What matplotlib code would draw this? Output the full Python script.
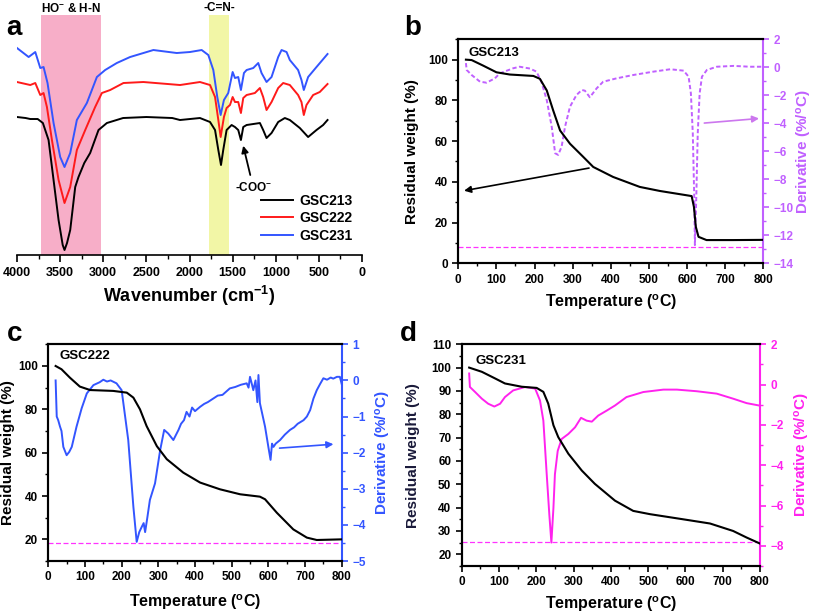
import numpy as np
import matplotlib
matplotlib.use("Agg")
import matplotlib.pyplot as plt
from matplotlib.ticker import MultipleLocator

plt.rcParams["font.family"] = ["Liberation Sans", "DejaVu Sans"]
plt.rcParams["font.weight"] = "bold"
plt.rcParams["axes.labelweight"] = "bold"
plt.rcParams["mathtext.fontset"] = "custom"
plt.rcParams["mathtext.rm"] = "Liberation Sans:bold"
plt.rcParams["mathtext.default"] = "rm"

# ── FTIR (panel a), transmittance in arbitrary units ──────────────────────────
wn_213 = [4000, 3900, 3846, 3760, 3700, 3634, 3576, 3518, 3470, 3449, 3420, 3383, 3325, 3287,
          3220, 3152, 3055, 2958, 2770, 2500, 2200, 2110, 1879, 1762, 1704, 1666, 1635, 1609,
          1570, 1512, 1473, 1435, 1404, 1377, 1338, 1184, 1146, 1107, 1049, 972, 895, 837,
          721, 625, 528, 451, 400]
ir_213 = [138, 137, 136, 136, 132, 115, 75, 35, 10, 5, 12, 25, 68, 78,
          92, 102, 125, 132, 137, 138, 137, 135, 137, 133, 125, 105, 90, 105,
          125, 130, 128, 125, 115, 128, 130, 132, 125, 117, 122, 133, 137, 135,
          127, 118, 125, 130, 135]
wn_222 = [4000, 3846, 3788, 3730, 3692, 3653, 3595, 3518, 3449, 3383, 3306, 3209, 3094, 3016,
          2920, 2766, 2535, 2110, 1879, 1762, 1704, 1666, 1639, 1601, 1570, 1531, 1500, 1473,
          1435, 1404, 1377, 1338, 1242, 1184, 1146, 1107, 1049, 972, 914, 837, 741, 702,
          675, 644, 567, 490, 400]
ir_222 = [173, 170, 172, 160, 162, 148, 115, 75, 52, 68, 105, 125, 148, 162,
          165, 172, 173, 170, 173, 170, 158, 135, 118, 138, 147, 150, 158, 153,
          153, 142, 157, 160, 162, 167, 158, 145, 153, 167, 172, 170, 160, 153,
          140, 150, 160, 163, 171]
wn_231 = [4000, 3865, 3788, 3730, 3692, 3646, 3576, 3499, 3449, 3383, 3306, 3190, 3074, 2978,
          2843, 2689, 2419, 2148, 1995, 1859, 1782, 1724, 1678, 1639, 1601, 1551, 1500, 1473,
          1435, 1404, 1369, 1338, 1261, 1203, 1165, 1107, 1049, 972, 933, 875, 837, 741,
          702, 675, 625, 528, 400]
ir_231 = [207, 198, 203, 187, 188, 172, 132, 98, 88, 102, 135, 152, 178, 185,
          192, 198, 205, 202, 203, 205, 200, 185, 158, 140, 155, 162, 183, 177,
          178, 165, 182, 185, 187, 192, 182, 173, 178, 198, 205, 203, 195, 185,
          175, 165, 178, 188, 201]

# ── TGA / DTG (panels b, c, d) ────────────────────────────────────────────────
t_213 = [20, 35, 66, 100, 135, 197, 214, 232, 249, 267, 293, 328, 354, 406, 476, 529,
         599, 612, 618, 623, 630, 651, 721, 800]
w_213 = [100, 99.8, 97, 93.8, 92.7, 92, 90.6, 84.9, 75, 65.2, 58.7, 52.2, 47.3, 42.4, 37.5, 35.5,
         33.4, 33, 27.7, 17.9, 13, 11.4, 11.4, 11.5]
td_213 = [20, 22, 35, 57, 74, 96, 109, 144, 161, 188, 205, 218, 232, 245, 254, 262, 271, 280,
          293, 310, 324, 332, 345, 363, 380, 415, 459, 512, 556, 591, 604, 610, 615, 619,
          620.5, 624, 628, 633, 639, 652, 678, 722, 765, 800]
d_213 = [0.3, -0.19, -0.55, -1.03, -1.1, -0.79, -0.43, -0.07, 0.04, -0.09, -0.31, -1.03, -2.34,
         -4.24, -6.14, -6.26, -5.67, -4.24, -2.81, -1.98, -1.62, -1.67, -2.14, -1.5, -1.03, -0.79,
         -0.55, -0.31, -0.14, -0.24, -0.67, -1.86, -4.71, -9.5, -12.7, -9.5, -4.71, -1.86, -0.67,
         -0.19, 0.04, 0.1, 0.04, 0.04]

t_222 = [20, 36, 59, 86, 114, 177, 214, 232, 250, 268, 296, 323, 368, 414, 468, 523, 577,
         591, 623, 668, 705, 732, 800]
w_222 = [100, 98.5, 94.6, 90.5, 88.9, 88.5, 87.7, 85.4, 80, 72.3, 63, 57, 50.8, 46.2, 43.1, 40.8,
         39.7, 38.5, 32.3, 24.6, 20.8, 19.7, 20]
td_222 = [20, 23, 27, 32, 36, 41, 50, 57, 64, 77, 91, 105, 123, 140, 150, 160, 170, 186,
          200, 218, 232, 241, 248, 255, 260, 264, 270, 277, 291, 305, 316, 327, 341, 355,
          362, 370, 377, 385, 392, 400, 414, 425, 435, 450, 462, 475, 495, 510, 525, 541,
          546, 550, 555, 559, 565, 570, 573, 577, 591, 600, 606, 610, 614, 620, 632, 645,
          659, 670, 680, 696, 705, 714, 723, 732, 741, 750, 760, 770, 777, 787, 795, 800]
d_222 = [0.0, -1.0, -1.1, -1.28, -1.4, -1.84, -2.07, -1.98, -1.84, -1.28, -0.77, -0.36, -0.13, -0.05, 0.02, -0.03, 0.0, -0.08,
         -0.27, -1.65, -3.5, -4.47, -4.2, -4.05, -3.95, -4.2, -3.8, -3.31, -2.85, -1.93, -1.37, -1.47, -1.65, -1.37,
         -1.2, -1.1, -0.87, -1.0, -0.75, -0.85, -0.73, -0.65, -0.6, -0.5, -0.42, -0.4, -0.22, -0.18, -0.12, -0.08,
         -0.2, 0.1, -0.1, -0.27, 0.0, -0.6, 0.15, -0.63, -1.28, -1.84, -2.2, -1.75, -1.84, -1.75, -1.65, -1.5,
         -1.37, -1.3, -1.2, -1.1, -1.0, -0.82, -0.5, -0.27, -0.1, 0.06, 0.02, 0.08, 0.05, 0.1, 0.1, -0.1]

t_231 = [20, 54, 89, 116, 161, 201, 219, 232, 246, 259, 286, 322, 357, 411, 460, 505, 594,
         666, 728, 764, 800]
w_231 = [100, 98.2, 95.4, 93.2, 91.8, 91.3, 89.6, 84.6, 75.3, 70.2, 63.1, 55.9, 50.2, 43, 38.6,
         37.2, 35, 33.2, 30, 27.2, 24.6]
td_231 = [20, 22, 36, 54, 71, 87.5, 103, 116, 138, 170, 197, 210, 219, 228, 235, 240.5, 246,
          250, 257.5, 268, 286, 304, 320, 335, 349, 366, 389, 411, 442, 487, 541, 577, 630,
          684, 728, 764, 798]
d_231 = [0.55, -0.12, -0.37, -0.7, -0.95, -1.09, -0.95, -0.62, -0.29, -0.12, -0.2, -0.79, -1.79,
         -4.45, -6.45, -7.84, -6.12, -4.45, -3.29, -2.7, -2.45, -2.12, -1.65, -1.79, -1.84, -1.54,
         -1.29, -1.04, -0.62, -0.37, -0.25, -0.25, -0.33, -0.45, -0.7, -0.92, -1.04]

fig = plt.figure(figsize=(8.13, 6.13), dpi=100)


# ── Panel a: FTIR ─────────────────────────────────────────────────────────────
ax = fig.add_axes([0.0209, 0.584, 0.4244, 0.3915])
ax.axvspan(3030, 3720, color="#F7AEC8", lw=0)
ax.axvspan(1540, 1770, color="#F2F6A6", lw=0)
ax.plot(wn_213, ir_213, color="black", lw=1.4, label="GSC213")
ax.plot(wn_222, ir_222, color="#FF1A1A", lw=1.4, label="GSC222")
ax.plot(wn_231, ir_231, color="#3355FF", lw=1.4, label="GSC231")
ax.set_xlim(4000, 0)
ax.set_ylim(0, 240)
for s in ["left", "right", "top"]:
    ax.spines[s].set_visible(False)
ax.spines["bottom"].set_linewidth(1.2)
ax.set_yticks([])
ax.xaxis.set_major_locator(MultipleLocator(500))
ax.xaxis.set_minor_locator(MultipleLocator(250))
ax.tick_params(axis="x", which="major", direction="out", length=5, width=1.2, labelsize=9)
ax.tick_params(axis="x", which="minor", direction="out", length=3, width=1)
ax.set_xlabel(r"Wavenumber (cm$^{-1}$)", fontsize=13)
ax.xaxis.set_label_coords(0.5, -0.12)
ax.text(3375, 247, r"HO$^{-}$ & H-N", ha="center", va="center", fontsize=8.5, clip_on=False)
ax.text(1655, 247, "-C=N-", ha="center", va="center", fontsize=8.5, clip_on=False)
ax.annotate(r"-COO$^{-}$", xy=(1385, 112), xytext=(1262, 68), ha="center", va="center",
            fontsize=8.5, arrowprops=dict(arrowstyle="-|>", color="black", lw=1.3, mutation_scale=10))
ax.legend(loc="lower right", bbox_to_anchor=(1.01, 0.0), frameon=False, fontsize=10,
          handlelength=2.3, labelspacing=0.25, handletextpad=0.5)


# ── Panels b, c, d: TGA + DTG ─────────────────────────────────────────────────
def tga_panel(rect, t, w, td, d, ylim, ymaj, ymin, dlim, dmaj, dmin, dcolor, lcolor,
              dstyle, name, name_xy, base_w, lx, rx, xl):
    ax = fig.add_axes(rect)
    ax2 = ax.twinx()
    ax2.plot(td, d, color=dcolor, lw=1.4, linestyle=dstyle)
    ax2.axhline(base_w, color="#FF33FF", lw=0.9, linestyle=(0, (4, 2)))
    ax.plot(t, w, color="black", lw=1.5, zorder=3)
    ax.set_zorder(ax2.get_zorder() + 1)
    ax.patch.set_visible(False)
    ax.set_xlim(0, 800)
    ax.set_ylim(*ylim)
    ax2.set_ylim(*dlim)
    ax.xaxis.set_major_locator(MultipleLocator(100))
    ax.xaxis.set_minor_locator(MultipleLocator(50))
    ax.yaxis.set_major_locator(MultipleLocator(ymaj))
    ax.yaxis.set_minor_locator(MultipleLocator(ymin))
    ax2.yaxis.set_major_locator(MultipleLocator(dmaj))
    ax2.yaxis.set_minor_locator(MultipleLocator(dmin))
    ax.tick_params(which="major", direction="out", length=4, width=1.2, labelsize=8.5)
    ax.tick_params(which="minor", direction="out", length=2.5, width=1)
    ax2.tick_params(which="major", direction="out", length=4, width=1.2, labelsize=8.5,
                    colors=dcolor)
    ax2.tick_params(which="minor", direction="out", length=2.5, width=1, colors=dcolor)
    for s in ["left", "bottom", "top"]:
        ax.spines[s].set_linewidth(1.5)
        ax2.spines[s].set_linewidth(1.5)
    ax2.spines["right"].set_color(dcolor)
    ax2.spines["right"].set_linewidth(1.5)
    ax.spines["right"].set_visible(False)
    ax.set_xlabel(r"Temperature ($^{o}$C)", fontsize=11.5)
    ax.set_ylabel("Residual weight (%)", fontsize=11, color=lcolor)
    ax2.set_ylabel("Derivative (%/$^{o}$C)", fontsize=11, color=dcolor)
    ax.xaxis.set_label_coords(0.5, xl)
    ax.yaxis.set_label_coords(lx, 0.5)
    ax2.yaxis.set_label_coords(rx, 0.5)
    ax.text(name_xy[0], name_xy[1], name, ha="left", va="center", fontsize=9.5)
    return ax, ax2


ax_b, ax_b2 = tga_panel([0.5637, 0.5705, 0.3752, 0.3654], t_213, w_213, td_213, d_213,
                        (0, 110), 20, 10, (-14, 2), 2, 1, "#C060FF", "black", (0, (2.2, 1.3)),
                        "GSC213", (28, 103.5), -12.86, -0.13, 1.105, -0.13)
ax_b.annotate("", xy=(8, 35.4), xytext=(350, 47),
              arrowprops=dict(arrowstyle="-|>", color="black", lw=1.2, mutation_scale=10))
ax_b2.annotate("", xy=(796, -3.64), xytext=(638, -4.0),
               arrowprops=dict(arrowstyle="-|>", color="#CC77EE", lw=1.2, mutation_scale=10))

ax_c, ax_c2 = tga_panel([0.0594, 0.0848, 0.3609, 0.3535], t_222, w_222, td_222, d_222,
                        (10, 110), 20, 10, (-5, 1), 1, 0.5, "#3355FF", "black", "-",
                        "GSC222", (30, 104.6), -4.51, -0.115, 1.11, -0.145)
ax_c2.annotate("", xy=(785, -1.76), xytext=(623, -1.88),
               arrowprops=dict(arrowstyle="-|>", color="#3355FF", lw=1.2, mutation_scale=10))

ax_d, ax_d2 = tga_panel([0.5679, 0.0767, 0.3669, 0.3617], t_231, w_231, td_231, d_231,
                        (15, 110), 10, 5, (-9, 2), 2, 1, "#FF22EE", "#1a1a3a", "-",
                        "GSC231", (36, 103), -7.82, -0.14, 1.11, -0.13)

# ── Panel letters ─────────────────────────────────────────────────────────────
for lbl, x, y in [("a", 0.008, 0.955), ("b", 0.497, 0.955), ("c", 0.008, 0.455), ("d", 0.492, 0.455)]:
    fig.text(x, y, lbl, fontsize=20, fontweight="bold", ha="left", va="center")

plt.savefig("out.png", dpi=100)
